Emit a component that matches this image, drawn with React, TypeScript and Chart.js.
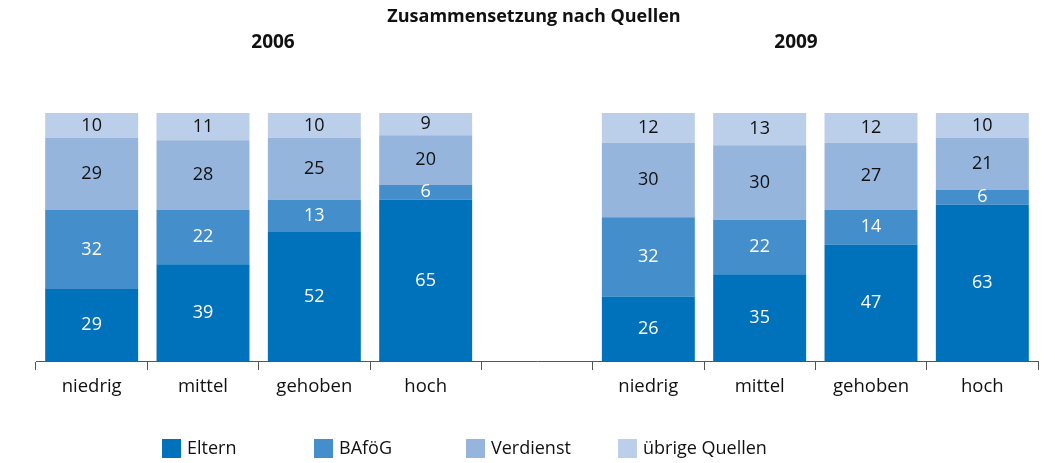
import React, { useEffect, useRef } from "react";
import { Chart, registerables } from "chart.js";

Chart.register(...registerables);

const categories = ["niedrig", "mittel", "gehoben", "hoch", "", "niedrig", "mittel", "gehoben", "hoch"];
const eltern = [29, 39, 52, 65, null, 26, 35, 47, 63];
const bafoeg = [32, 22, 13, 6, null, 32, 22, 14, 6];
const verdienst = [29, 28, 25, 20, null, 30, 30, 27, 21];
const uebrige = [10, 11, 10, 9, null, 12, 13, 12, 10];
const seriesNames = ["Eltern", "BAföG", "Verdienst", "übrige Quellen"];
const seriesColors = ["#0071BB", "#438ECB", "#96B5DD", "#BBCEEA"];
const chartTitle = "Zusammensetzung nach Quellen";
const groupTitles = ["2006", "2009"];

const FONT = "'Open Sans', 'DejaVu Sans', sans-serif";

const overlayPlugin = {
  id: "overlay",
  afterDatasetsDraw(chart: any) {
    const ctx = chart.ctx;
    ctx.save();
    ctx.font = `18px ${FONT}`;
    ctx.textAlign = "center";
    ctx.textBaseline = "middle";
    chart.data.datasets.forEach((ds: any, i: number) => {
      const meta = chart.getDatasetMeta(i);
      meta.data.forEach((bar: any, j: number) => {
        const v = ds.data[j];
        if (v == null) return;
        const p = bar.getProps(["x", "y", "base"], true);
        ctx.fillStyle = i < 2 ? "#ffffff" : "#111111";
        ctx.fillText(String(v), p.x, (p.y + p.base) / 2);
      });
    });
    ctx.restore();
  },
  afterDraw(chart: any) {
    const ctx = chart.ctx;
    ctx.save();
    ctx.fillStyle = "#111111";
    ctx.textAlign = "center";
    ctx.textBaseline = "middle";
    ctx.font = `bold 18px ${FONT}`;
    ctx.fillText(chartTitle, 534, 17);
    ctx.font = `bold 19px ${FONT}`;
    ctx.fillText(groupTitles[0], 273, 43);
    ctx.fillText(groupTitles[1], 796, 43);
    // legend
    ctx.font = `18px ${FONT}`;
    ctx.textAlign = "left";
    seriesNames.forEach((name, i) => {
      const x = 162 + i * 152;
      ctx.fillStyle = seriesColors[i];
      ctx.fillRect(x, 439, 19, 19);
      ctx.fillStyle = "#111111";
      ctx.fillText(name, x + 25, 449);
    });
    ctx.restore();
  },
};

export default function App() {
  const ref = useRef<HTMLCanvasElement>(null);
  useEffect(() => {
    if (!ref.current) return;
    const data = [eltern, bafoeg, verdienst, uebrige];
    const chart = new Chart(ref.current, {
      type: "bar",
      data: {
        labels: categories,
        datasets: data.map((d, i) => ({
          label: seriesNames[i],
          data: d,
          backgroundColor: seriesColors[i],
          borderWidth: 0,
          barPercentage: 0.835,
          categoryPercentage: 1,
        })),
      },
      options: {
        responsive: false,
        animation: false,
        layout: { padding: { top: 113, left: 36, right: 17, bottom: 0 } },
        plugins: {
          legend: { display: false },
          tooltip: { enabled: false },
          title: { display: false },
        },
        scales: {
          x: {
            stacked: true,
            grid: {
              offset: true,
              drawOnChartArea: false,
              tickLength: 9,
              color: "#555555",
              lineWidth: 1,
            },
            border: { display: true, color: "#555555", width: 1 },
            ticks: {
              color: "#111111",
              font: { family: FONT, size: 18.5 },
              padding: 6,
              maxRotation: 0,
              autoSkip: false,
            },
            afterFit: (axis: any) => {
              axis.height = 102;
            },
          },
          y: {
            stacked: true,
            min: 0,
            max: 100,
            display: false,
          },
        },
      },
      plugins: [overlayPlugin],
    });
    return () => chart.destroy();
  }, []);
  return (
    <div style={{ position: "absolute", left: 0, top: 0, width: 1055, height: 463 }}>
      <canvas ref={ref} width={1055} height={463} />
    </div>
  );
}
